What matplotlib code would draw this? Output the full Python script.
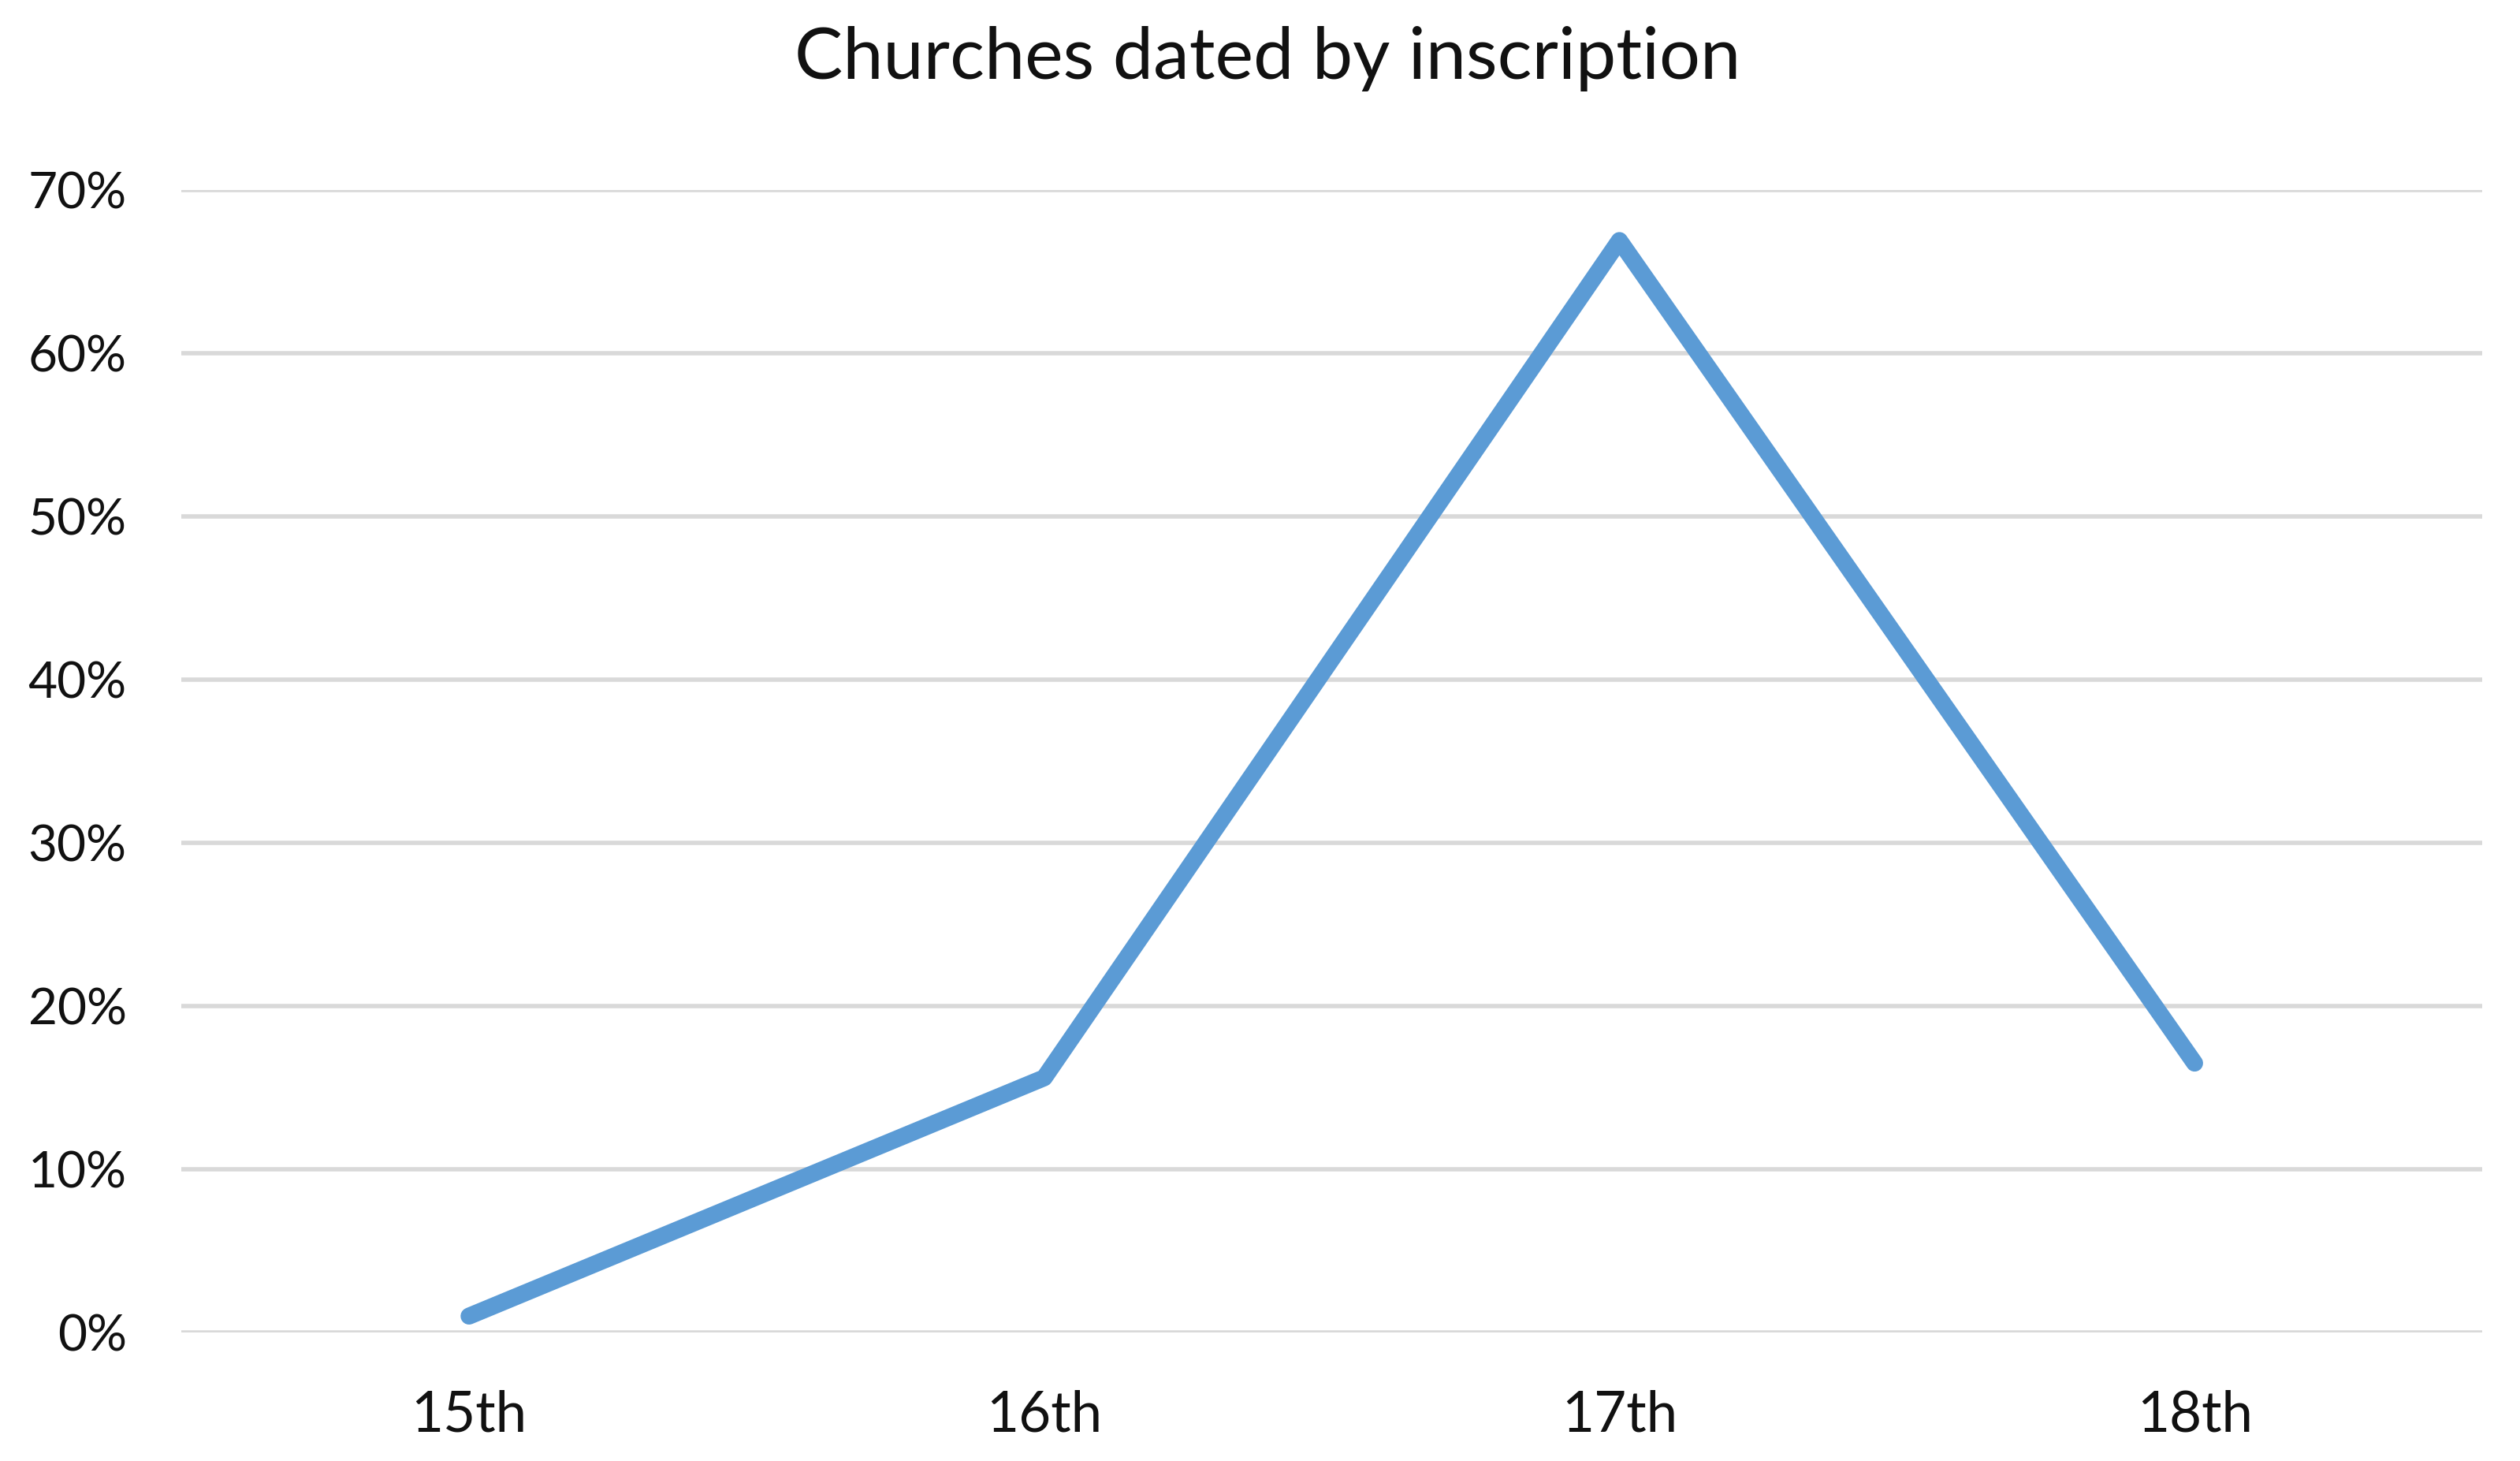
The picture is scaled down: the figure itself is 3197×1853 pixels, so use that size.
import matplotlib.pyplot as plt
from matplotlib.ticker import PercentFormatter

centuries = ['15th', '16th', '17th', '18th']
share = [0.010, 0.156, 0.669, 0.165]
yticks = [0.0, 0.1, 0.2, 0.3, 0.4, 0.5, 0.6, 0.7]

plt.rcParams['font.family'] = ['Lato', 'DejaVu Sans']

fig = plt.figure(figsize=(31.97, 18.53), dpi=100)
ax = fig.add_axes([0.072, 0.088, 0.913, 0.782])

# the series
ax.plot(range(len(centuries)), share, color='#5B9BD5', lw=15.5,
        solid_capstyle='round', solid_joinstyle='round', zorder=3)

ax.set_xlim(-0.5, len(centuries) - 0.5)
ax.set_ylim(0, 0.7)
ax.set_xticks(range(len(centuries)))
ax.set_xticklabels(centuries)
ax.set_yticks(yticks)
ax.yaxis.set_major_formatter(PercentFormatter(1.0, decimals=0))

ax.grid(axis='y', color='#D9D9D9', lw=4, zorder=0)
ax.tick_params(length=0, colors='#111111')
ax.tick_params(axis='y', pad=50, labelsize=46)
ax.tick_params(axis='x', pad=52, labelsize=51)
for s in ax.spines.values():
    s.set_visible(False)
ax.set_axisbelow(True)

fig.text(0.503, 0.982, 'Churches dated by inscription', ha='center', va='top',
         fontsize=66, color='#111111')

fig.savefig('out.png', dpi=100, facecolor='white')
